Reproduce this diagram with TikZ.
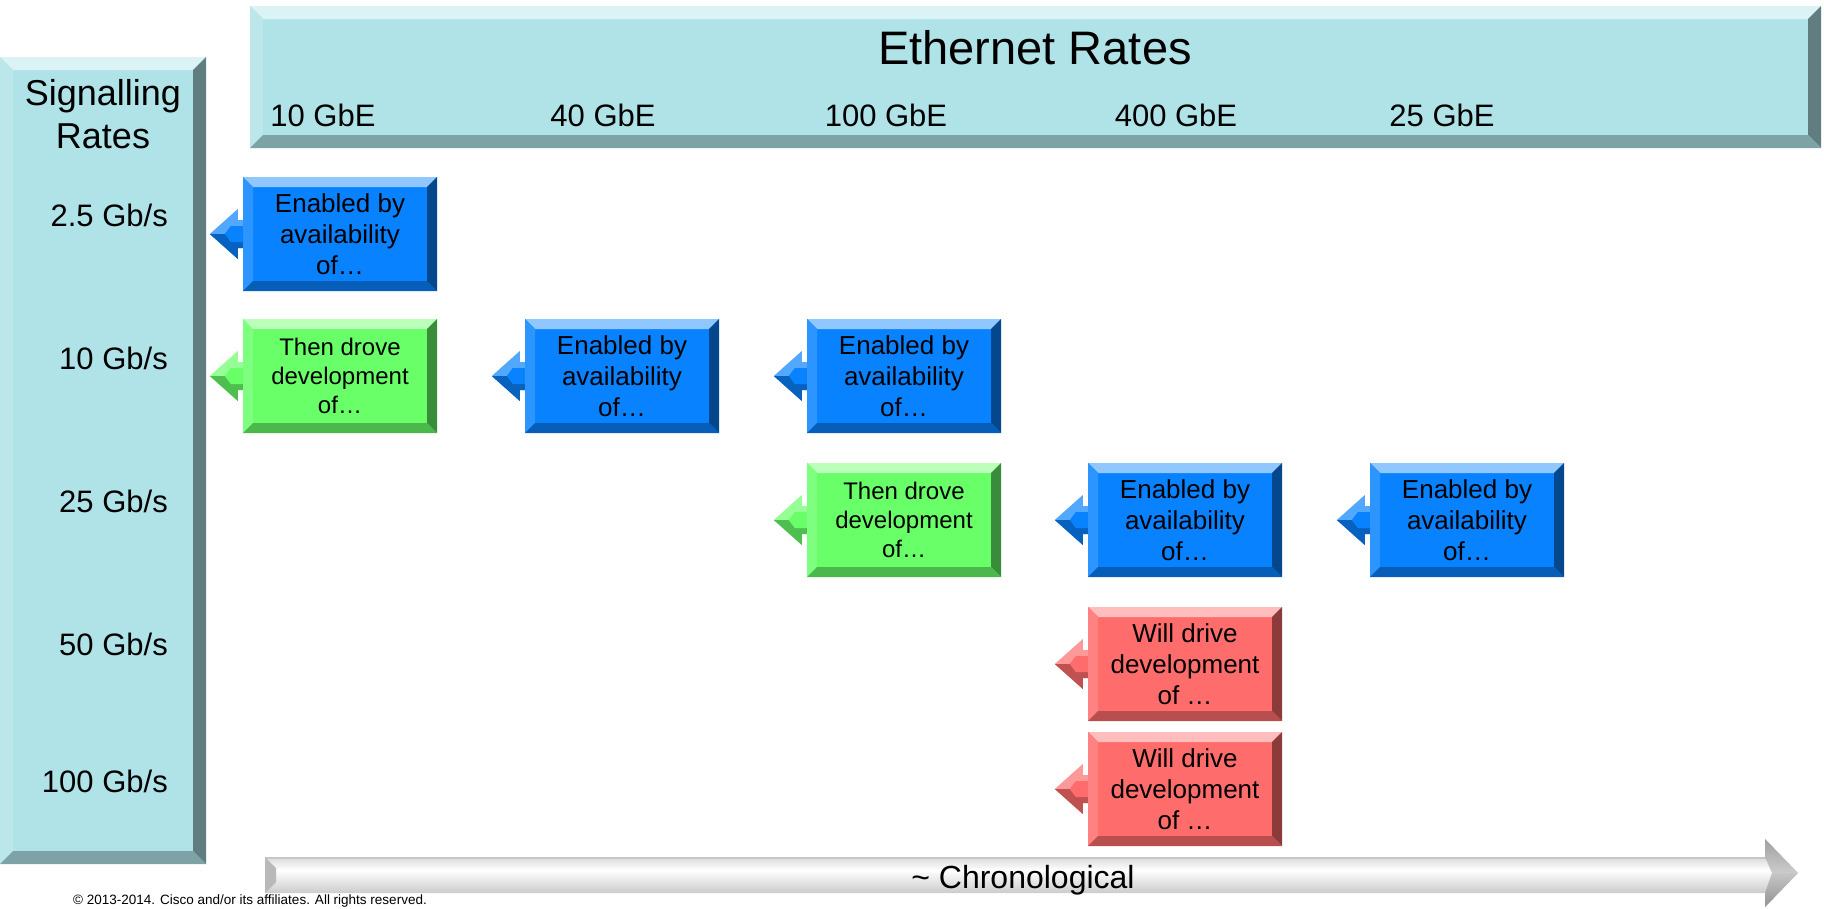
\documentclass[tikz,border=0pt]{standalone}
\usepackage{fontspec}
\setmainfont{Liberation Sans}
\usepackage{xcolor}

\definecolor{tealbox}{RGB}{175,227,232}
\definecolor{bluebox}{RGB}{8,130,255}
\definecolor{greenbox}{RGB}{104,255,104}
\definecolor{redbox}{RGB}{255,108,108}

\tikzset{
  bevel/.style 2 args={path picture={
    \path (path picture bounding box.north west) coordinate (pnw)
          (path picture bounding box.north east) coordinate (pne)
          (path picture bounding box.south west) coordinate (psw)
          (path picture bounding box.south east) coordinate (pse);
    \fill[#1!45!white] (pnw) -- (pne) -- ([shift={(-#2,-#2)}]pne) -- ([shift={(#2,-#2)}]pnw) -- cycle;
    \fill[#1!85!white] (pnw) -- ([shift={(#2,-#2)}]pnw) -- ([shift={(#2,#2)}]psw) -- (psw) -- cycle;
    \fill[#1!55!black] (pne) -- ([shift={(-#2,-#2)}]pne) -- ([shift={(-#2,#2)}]pse) -- (pse) -- cycle;
    \fill[#1!72!black] (psw) -- ([shift={(#2,#2)}]psw) -- ([shift={(-#2,#2)}]pse) -- (pse) -- cycle;
  }},
  panel/.style={fill=tealbox, bevel={tealbox}{13pt}},
  ratebox/.style={fill=#1, bevel={#1}{10pt}, minimum width=194, minimum height=114,
    align=center, font=\fontsize{26}{31}\selectfont},
}

\begin{document}
\begin{tikzpicture}[x=1pt, y=-1pt, every node/.style={inner sep=0}]
    \useasboundingbox (0,0) rectangle (1824,908);

    % Signalling rates column
    \node[panel, minimum width=206, minimum height=807] (sig) at (103,460.5) {};
    \node[anchor=north, align=center, font=\fontsize{36}{43}\selectfont] (sigtitle) at (103,79) {Signalling\\Rates};
    \node[anchor=base east, font=\fontsize{31}{37}\selectfont] (s1) at (168,226) {2.5 Gb/s};
    \node[anchor=base east, font=\fontsize{31}{37}\selectfont] (s2) at (168,369) {10 Gb/s};
    \node[anchor=base east, font=\fontsize{31}{37}\selectfont] (s3) at (168,512) {25 Gb/s};
    \node[anchor=base east, font=\fontsize{31}{37}\selectfont] (s4) at (168,655) {50 Gb/s};
    \node[anchor=base east, font=\fontsize{31}{37}\selectfont] (s5) at (168,792) {100 Gb/s};

    % Ethernet rates row
    \node[panel, minimum width=1571, minimum height=142] (eth) at (1035.5,77) {};
    \node[anchor=base, font=\fontsize{47}{56}\selectfont] (ethtitle) at (1035,64) {Ethernet Rates};
    \node[anchor=base, font=\fontsize{31}{37}\selectfont] (e1) at (323,126) {10 GbE};
    \node[anchor=base, font=\fontsize{31}{37}\selectfont] (e2) at (603,126) {40 GbE};
    \node[anchor=base, font=\fontsize{31}{37}\selectfont] (e3) at (886,126) {100 GbE};
    \node[anchor=base, font=\fontsize{31}{37}\selectfont] (e4) at (1176,126) {400 GbE};
    \node[anchor=base, font=\fontsize{31}{37}\selectfont] (e5) at (1442,126) {25 GbE};

    % Boxes
    \node[ratebox=bluebox] (b11) at (340,234) {Enabled by\\availability\\of…};
    \node[ratebox=greenbox, font=\fontsize{24}{29}\selectfont] (g21) at (340,376) {Then drove\\development\\of…};
    \node[ratebox=bluebox] (b22) at (622,376) {Enabled by\\availability\\of…};
    \node[ratebox=bluebox] (b23) at (904,376) {Enabled by\\availability\\of…};
    \node[ratebox=greenbox, font=\fontsize{24}{29}\selectfont] (g33) at (904,520) {Then drove\\development\\of…};
    \node[ratebox=bluebox] (b34) at (1185,520) {Enabled by\\availability\\of…};
    \node[ratebox=bluebox] (b35) at (1467,520) {Enabled by\\availability\\of…};
    \node[ratebox=redbox] (r44) at (1185,664) {Will drive\\development\\of …};
    \node[ratebox=redbox] (r54) at (1185,789) {Will drive\\development\\of …};

    % Left pointing arrows on the boxes
    \foreach \n/\c in {b11/bluebox, g21/greenbox, b22/bluebox, b23/bluebox, g33/greenbox,
                       b34/bluebox, b35/bluebox, r44/redbox, r54/redbox}{
        \fill[\c!70!white] (\n.west) ++(0,-14) -- ++(-5,0) -- ++(0,-11) -- ++(-28,25)
            -- ++(28,25) -- ++(0,-11) -- ++(5,0) -- cycle;
        \fill[\c!75!black] (\n.west) -- ++(-33,0) -- ++(28,25) -- ++(0,-11) -- ++(5,0) -- cycle;
        \fill[\c] (\n.west) ++(0,-8) -- ++(-12,0) -- ++(-6,8) -- ++(6,8) -- ++(12,0) -- cycle;
    }

    % Chronological arrow
    \begin{scope}
        \clip (265,857) -- (1765,857) -- (1765,839) -- (1798,873) -- (1765,907) -- (1765,893) -- (265,893) -- cycle;
        \fill[gray!45] (265,835) rectangle (1800,859);
        \shade[top color=gray!25, bottom color=white] (265,859) rectangle (1800,870);
        \shade[top color=white, bottom color=gray!70] (265,870) rectangle (1800,910);
        \fill[gray!55] (265,857) -- (276,868) -- (276,882) -- (265,893) -- cycle;
        \shade[top color=gray!75, bottom color=gray!40] (1765,839) -- (1798,873) -- (1772,873) -- (1765,857) -- cycle;
        \shade[top color=gray!45, bottom color=gray!85] (1765,907) -- (1798,873) -- (1772,873) -- (1765,893) -- cycle;
    \end{scope}
    \node[anchor=base, font=\fontsize{32}{38}\selectfont] (chrono) at (1023,888) {\textasciitilde\ Chronological};

    % Footer
    \node[anchor=base west, font=\fontsize{13.5}{16}\selectfont] (copy) at (73,904.5) {© 2013-2014. Cisco and/or its affiliates. All rights reserved.};
\end{tikzpicture}
\end{document}
